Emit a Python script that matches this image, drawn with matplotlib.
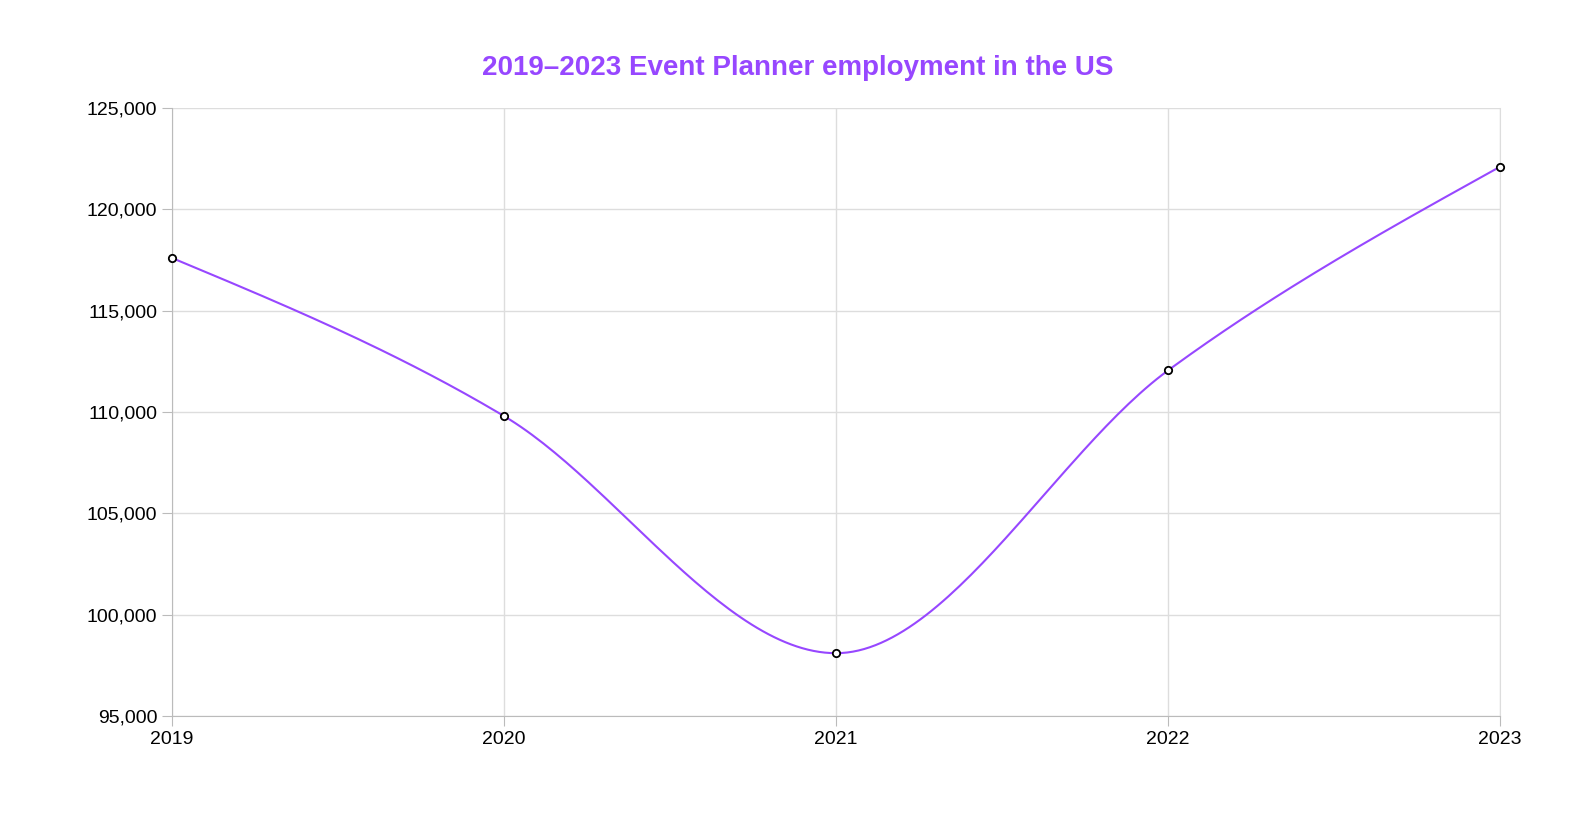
import numpy as np
import matplotlib
matplotlib.use("Agg")
import matplotlib.pyplot as plt
from matplotlib.ticker import FuncFormatter

plt.rcParams["font.family"] = "Liberation Sans"

years = [2019, 2020, 2021, 2022, 2023]
employment = [117600, 109800, 98100, 112050, 122100]
y_ticks = [95000, 100000, 105000, 110000, 115000, 120000, 125000]
title = "2019–2023 Event Planner employment in the US"
color = "#9747FF"

def monotone_x(x, y, n=60):
    x = np.asarray(x, float); y = np.asarray(y, float)
    h = np.diff(x); s = np.diff(y) / h
    m = np.zeros_like(y)
    for i in range(1, len(x) - 1):
        if s[i-1] * s[i] <= 0:
            m[i] = 0
        else:
            p = (s[i-1] * h[i] + s[i] * h[i-1]) / (h[i-1] + h[i])
            m[i] = (np.sign(s[i-1]) + np.sign(s[i])) * min(abs(s[i-1]), abs(s[i]), 0.5 * abs(p))
    m[0] = (3 * s[0] - m[1]) / 2
    m[-1] = (3 * s[-1] - m[-2]) / 2
    xs, ys = [], []
    for i in range(len(x) - 1):
        t = np.linspace(0, 1, n)
        h00 = 2*t**3 - 3*t**2 + 1; h10 = t**3 - 2*t**2 + t
        h01 = -2*t**3 + 3*t**2; h11 = t**3 - t**2
        xs.append(x[i] + t * h[i])
        ys.append(h00*y[i] + h10*h[i]*m[i] + h01*y[i+1] + h11*h[i]*m[i+1])
    return np.concatenate(xs), np.concatenate(ys)

fig = plt.figure(figsize=(15.96, 8.26), dpi=100)
ax = fig.add_axes([172/1596, 1 - 716/826, (1500-172)/1596, (716-108)/826])
cx, cy = monotone_x(years, employment)
ax.plot(cx, cy, color=color, lw=1.5, zorder=3, clip_on=False)
ax.scatter(years, employment, s=28, facecolor="white", edgecolor="black", linewidth=1.3, zorder=4, clip_on=False)
ax.set_xlim(2019, 2023)
ax.set_ylim(95000, 125000)
ax.set_xticks(years)
ax.set_yticks(y_ticks)
ax.yaxis.set_major_formatter(FuncFormatter(lambda v, p: f"{int(v):,}"))
ax.grid(True, color="#dddddd", lw=1)
ax.spines["top"].set_visible(False)
ax.spines["right"].set_color("#dddddd")
ax.spines["left"].set_color("#bbbbbb")
ax.spines["bottom"].set_color("#bbbbbb")
ax.tick_params(colors="#bbbbbb", labelcolor="black", labelsize=14, length=7)
fig.text(798/1596, 1 - 68/826, title, ha="center", va="center", fontsize=20, fontweight="bold", color=color)
fig.savefig("out.png", dpi=100)
